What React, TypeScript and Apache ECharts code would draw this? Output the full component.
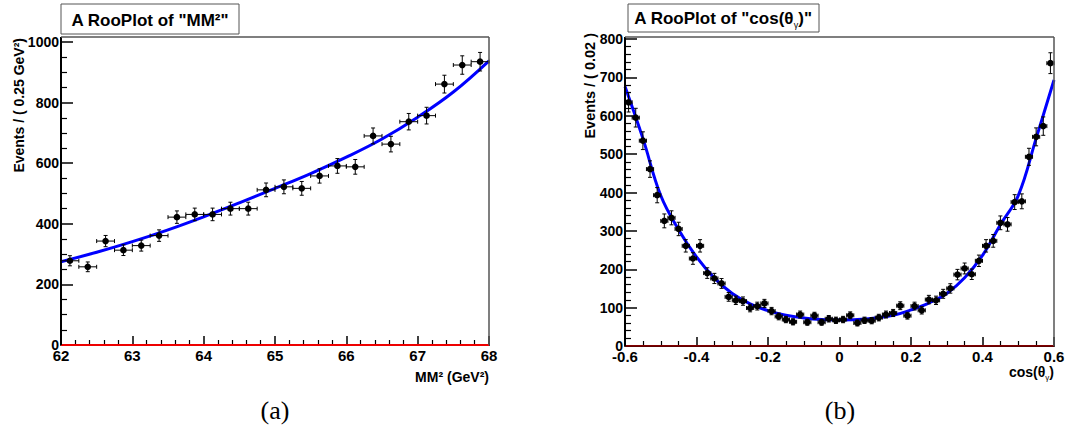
import React, { useEffect, useRef } from 'react';
import * as echarts from 'echarts';

// ---------- Data: plot (a) MM^2 ----------
const mmCenters = [62.125, 62.375, 62.625, 62.875, 63.125, 63.375, 63.625, 63.875, 64.125, 64.375, 64.625, 64.875,
  65.125, 65.375, 65.625, 65.875, 66.125, 66.375, 66.625, 66.875, 67.125, 67.375, 67.625, 67.875];
const mmCounts = [278, 258, 343, 313, 328, 361, 422, 431, 431, 450, 450, 512,
  522, 517, 558, 591, 588, 690, 663, 737, 757, 861, 924, 935];
const mmFitX = [62, 62.5, 63, 63.5, 64, 64.5, 65, 65.5, 66, 66.5, 67, 67.5, 68];
const mmFitY = [275, 306, 341, 380, 423, 469, 517, 566, 620, 680, 752, 835, 938];
const mmHalfBin = 0.125;

// ---------- Data: plot (b) cos(theta_gamma) ----------
const cosCenters = [-0.59, -0.57, -0.55, -0.53, -0.51, -0.49, -0.47, -0.45, -0.43, -0.41,
  -0.39, -0.37, -0.35, -0.33, -0.31, -0.29, -0.27, -0.25, -0.23, -0.21,
  -0.19, -0.17, -0.15, -0.13, -0.11, -0.09, -0.07, -0.05, -0.03, -0.01,
  0.01, 0.03, 0.05, 0.07, 0.09, 0.11, 0.13, 0.15, 0.17, 0.19,
  0.21, 0.23, 0.25, 0.27, 0.29, 0.31, 0.33, 0.35, 0.37, 0.39,
  0.41, 0.43, 0.45, 0.47, 0.49, 0.51, 0.53, 0.55, 0.57, 0.59];
const cosCounts = [635, 595, 535, 461, 393, 326, 334, 305, 261, 228,
  261, 190, 176, 163, 128, 119, 117, 99, 104, 111,
  91, 77, 69, 63, 82, 62, 79, 62, 71, 67,
  69, 80, 60, 67, 66, 74, 82, 86, 105, 79,
  104, 93, 121, 119, 136, 150, 186, 202, 187, 222,
  261, 274, 321, 317, 375, 377, 493, 545, 573, 737];
const cosFitX = [-0.6, -0.55, -0.5, -0.45, -0.4, -0.35, -0.3, -0.25, -0.2, -0.15, -0.1, -0.05, 0,
  0.05, 0.1, 0.15, 0.2, 0.25, 0.3, 0.35, 0.4, 0.45, 0.5, 0.55, 0.6];
const cosFitY = [676, 541, 392, 303, 232, 177, 137, 110, 92, 80, 73, 69, 68,
  69, 73, 80, 94, 112, 137, 178, 236, 316, 392, 541, 693];
const cosHalfBin = 0.01;

const FONT = 'Liberation Sans, Arial, Helvetica, sans-serif';

function errSeries(xi: number, centers: number[], counts: number[], half: number) {
  return {
    type: 'custom',
    xAxisIndex: xi,
    yAxisIndex: xi,
    z: 5,
    data: centers.map((c, i) => [c, counts[i]]),
    renderItem: (params: any, api: any) => {
      const x = api.value(0);
      const y = api.value(1);
      const e = Math.sqrt(y);
      const p = api.coord([x, y]);
      const t = api.coord([x, y + e]);
      const b = api.coord([x, y - e]);
      const l = api.coord([x - half, y]);
      const r = api.coord([x + half, y]);
      const cap = 2;
      const st = { stroke: '#000', lineWidth: 1 };
      return {
        type: 'group',
        children: [
          { type: 'line', shape: { x1: p[0], y1: t[1], x2: p[0], y2: b[1] }, style: st },
          { type: 'line', shape: { x1: p[0] - cap, y1: t[1], x2: p[0] + cap, y2: t[1] }, style: st },
          { type: 'line', shape: { x1: p[0] - cap, y1: b[1], x2: p[0] + cap, y2: b[1] }, style: st },
          { type: 'line', shape: { x1: l[0], y1: p[1], x2: r[0], y2: p[1] }, style: st },
          { type: 'line', shape: { x1: l[0], y1: p[1] - cap, x2: l[0], y2: p[1] + cap }, style: st },
          { type: 'line', shape: { x1: r[0], y1: p[1] - cap, x2: r[0], y2: p[1] + cap }, style: st },
          { type: 'circle', shape: { cx: p[0], cy: p[1], r: 3.3 }, style: { fill: '#000' } },
        ],
      };
    },
  };
}

const plain = (v: number) => String(Math.round(v * 1000) / 1000);

function xAxis(gi: number, min: number, max: number, interval: number, minorSplit: number) {
  return {
    type: 'value', gridIndex: gi, min, max, interval,
    axisLine: { show: true, onZero: false, lineStyle: { color: '#000', width: 2 } },
    axisTick: { show: true, inside: true, length: 9, lineStyle: { color: '#000', width: 1.5 } },
    minorTick: { show: true, splitNumber: minorSplit, length: 5, lineStyle: { color: '#000', width: 1.2 } },
    splitLine: { show: false },
    axisLabel: { color: '#000', fontSize: 15, fontWeight: 'bold', fontFamily: FONT, margin: 3, showMinLabel: true, showMaxLabel: true, formatter: plain },
  };
}
function yAxis(gi: number, min: number, max: number, interval: number, minorSplit: number) {
  return {
    type: 'value', gridIndex: gi, min, max, interval,
    axisLine: { show: false, onZero: false },
    axisTick: { show: true, inside: true, length: 12, lineStyle: { color: '#000', width: 1.5 } },
    minorTick: { show: true, splitNumber: minorSplit, length: 6, lineStyle: { color: '#000', width: 1.2 } },
    splitLine: { show: false },
    axisLabel: { color: '#000', fontSize: 14, fontWeight: 'bold', fontFamily: FONT, margin: 2, formatter: plain },
  };
}

const L = { x0: 61, x1: 489, top: 37, y0: 42, bottom: 345 };
const R = { x0: 625, x1: 1054, top: 37, y0: 39, bottom: 346 };

function frame(g: any) {
  return [
    { type: 'line', z: 10, shape: { x1: g.x0, y1: g.top, x2: g.x0, y2: g.bottom }, style: { stroke: '#000', lineWidth: 2 } },
    { type: 'line', z: 10, shape: { x1: g.x0, y1: g.top, x2: g.x1, y2: g.top }, style: { stroke: '#555', lineWidth: 1.5 } },
    { type: 'line', z: 10, shape: { x1: g.x1, y1: g.top, x2: g.x1, y2: g.bottom }, style: { stroke: '#555', lineWidth: 1.5 } },
  ];
}

export default function App() {
  const ref = useRef<HTMLDivElement>(null);
  useEffect(() => {
    document.body.style.margin = '0';
    const chart = echarts.init(ref.current!, null, { renderer: 'svg' });
    chart.setOption({
      animation: false,
      backgroundColor: '#fff',
      grid: [
        { left: L.x0, top: L.y0, width: L.x1 - L.x0, height: L.bottom - L.y0 },
        { left: R.x0, top: R.y0, width: R.x1 - R.x0, height: R.bottom - R.y0 },
      ],
      xAxis: [xAxis(0, 62, 68, 1, 5), xAxis(1, -0.6, 0.6, 0.2, 4)],
      yAxis: [yAxis(0, 0, 1000, 200, 4), yAxis(1, 0, 800, 100, 5)],
      series: [
        {
          type: 'line', xAxisIndex: 0, yAxisIndex: 0, z: 3,
          data: [[mmFitX[0], 0], [mmFitX[mmFitX.length - 1], 0]],
          showSymbol: false, lineStyle: { color: '#ee0000', width: 2 },
        },
        {
          type: 'line', xAxisIndex: 0, yAxisIndex: 0, z: 4, smooth: 0.4,
          data: mmFitX.map((x, i) => [x, mmFitY[i]]),
          showSymbol: false, lineStyle: { color: '#0000ff', width: 3 },
        },
        errSeries(0, mmCenters, mmCounts, mmHalfBin),
        {
          type: 'line', xAxisIndex: 1, yAxisIndex: 1, z: 3,
          data: [[cosFitX[0], 0], [cosFitX[cosFitX.length - 1], 0]],
          showSymbol: false, lineStyle: { color: '#aa0000', width: 1.5 },
        },
        {
          type: 'line', xAxisIndex: 1, yAxisIndex: 1, z: 4, smooth: 0.4,
          data: cosFitX.map((x, i) => [x, cosFitY[i]]),
          showSymbol: false, lineStyle: { color: '#0000ff', width: 3 },
        },
        errSeries(1, cosCenters, cosCounts, cosHalfBin),
      ],
      graphic: [
        ...frame(L),
        ...frame(R),
        // Title boxes
        { type: 'rect', z: 11, shape: { x: 61, y: 4, width: 178, height: 30 }, style: { fill: '#fff', stroke: '#555', lineWidth: 1 } },
        {
          type: 'text', z: 12, x: 150, y: 20,
          style: { text: 'A RooPlot of "MM²"', fill: '#000', fontSize: 17, fontWeight: 'bold', fontFamily: FONT, align: 'center', verticalAlign: 'middle' },
        },
        { type: 'rect', z: 11, shape: { x: 628, y: 4, width: 191, height: 28 }, style: { fill: '#fff', stroke: '#555', lineWidth: 1 } },
        {
          type: 'text', z: 12, x: 723, y: 18,
          style: {
            text: '{a|A RooPlot of "cos(θ}{s|γ}{a|)"}',
            align: 'center', verticalAlign: 'middle',
            rich: {
              a: { fill: '#000', fontSize: 17, fontWeight: 'bold', fontFamily: FONT, lineHeight: 22 },
              s: { fill: '#000', fontSize: 9, fontFamily: FONT, lineHeight: 9, verticalAlign: 'bottom' },
            },
          },
        },
        // Y titles
        {
          type: 'text', x: 19, y: 38, rotation: Math.PI / 2,
          style: { text: 'Events / ( 0.25 GeV²)', fill: '#000', fontSize: 14, fontWeight: 'bold', fontFamily: FONT, align: 'right', verticalAlign: 'middle' },
        },
        {
          type: 'text', x: 590, y: 33, rotation: Math.PI / 2,
          style: { text: 'Events / ( 0.02 )', fill: '#000', fontSize: 14.5, fontWeight: 'bold', fontFamily: FONT, align: 'right', verticalAlign: 'middle' },
        },
        // X titles
        {
          type: 'text', x: 489, y: 377,
          style: { text: 'MM² (GeV²)', fill: '#000', fontSize: 14, fontWeight: 'bold', fontFamily: FONT, align: 'right', verticalAlign: 'middle' },
        },
        {
          type: 'text', x: 1054, y: 372,
          style: {
            text: '{a|cos(θ}{s|γ}{a|)}',
            align: 'right', verticalAlign: 'middle',
            rich: {
              a: { fill: '#000', fontSize: 14, fontWeight: 'bold', fontFamily: FONT, lineHeight: 18 },
              s: { fill: '#000', fontSize: 8, fontFamily: FONT, lineHeight: 8, verticalAlign: 'bottom' },
            },
          },
        },
        // Captions
        {
          type: 'text', x: 275, y: 410,
          style: { text: '(a)', fill: '#000', fontSize: 26, fontFamily: 'Liberation Serif, Times New Roman, serif', align: 'center', verticalAlign: 'middle' },
        },
        {
          type: 'text', x: 840, y: 410,
          style: { text: '(b)', fill: '#000', fontSize: 26, fontFamily: 'Liberation Serif, Times New Roman, serif', align: 'center', verticalAlign: 'middle' },
        },
      ],
    });
    return () => chart.dispose();
  }, []);
  return <div ref={ref} style={{ width: 1068, height: 430 }} />;
}
